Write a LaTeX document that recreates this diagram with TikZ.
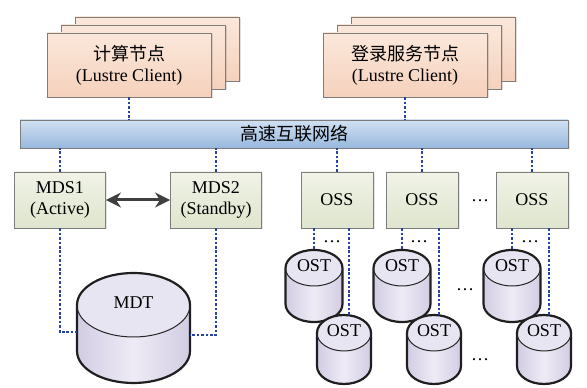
\documentclass[tikz,border=0pt]{standalone}
\usepackage{fontspec}
\setmainfont{Liberation Serif}
\newfontfamily\cjk{Noto Sans CJK SC}
\usetikzlibrary{arrows.meta,shadows,calc}

\definecolor{peachtop}{RGB}{251,232,219}
\definecolor{peachbot}{RGB}{245,209,188}
\definecolor{bartop}{RGB}{208,224,242}
\definecolor{barbot}{RGB}{152,184,221}
\definecolor{srvtop}{RGB}{240,243,230}
\definecolor{srvbot}{RGB}{223,229,206}
\definecolor{edgegray}{RGB}{125,125,125}
\definecolor{linkblue}{RGB}{38,68,168}
\definecolor{disklight}{RGB}{238,235,246}
\definecolor{diskdark}{RGB}{210,204,226}
\definecolor{disktopc}{RGB}{232,229,242}

% 圆柱：名字, x, 顶部 y, x 半径, y 半径, 高, 文字
\newcommand{\disk}[7]{%
  \path[diskside] ({#2-#4},{#3-#5}) -- ({#2-#4},{#3-#6+#5})
    arc[start angle=180, end angle=360, x radius=#4pt, y radius=#5pt]
    -- ({#2+#4},{#3-#5})
    arc[start angle=0, end angle=180, x radius=#4pt, y radius=#5pt] -- cycle;
  \fill[disktopc] (#2,{#3-#5}) ellipse[x radius=#4pt, y radius=#5pt];
  \draw[diskrim] ({#2-#4},{#3-#5}) -- ({#2-#4},{#3-#6+#5})
    arc[start angle=180, end angle=360, x radius=#4pt, y radius=#5pt]
    -- ({#2+#4},{#3-#5})
    arc[start angle=0, end angle=180, x radius=#4pt, y radius=#5pt] -- cycle;
  \draw[line width=1pt, black!85] ({#2-#4},{#3-#5})
    arc[start angle=180, end angle=360, x radius=#4pt, y radius=#5pt];
  \coordinate (#1-top) at (#2,#3);
  \node[disklabel] (#1) at (#2,{#3-#5+2.5}) {#7};
}

\begin{document}
\begin{tikzpicture}[x=1pt, y=1pt,
    font=\fontsize{18}{21}\selectfont,
    stackbox/.style={draw=edgegray, line width=0.8pt, top color=peachtop, bottom color=peachbot,
      minimum width=164pt, minimum height=64pt, inner sep=0pt, align=center,
      drop shadow={opacity=0.25, shadow xshift=1.5pt, shadow yshift=-1.5pt}},
    netbar/.style={draw=edgegray, line width=0.8pt, top color=bartop, bottom color=barbot,
      minimum width=548pt, minimum height=28pt, inner sep=0pt,
      drop shadow={opacity=0.2, shadow xshift=1.5pt, shadow yshift=-1.5pt}},
    srvbox/.style={draw=edgegray, line width=0.8pt, top color=srvtop, bottom color=srvbot,
      minimum width=72pt, minimum height=56pt, inner sep=0pt, align=center,
      drop shadow={opacity=0.2, shadow xshift=1.5pt, shadow yshift=-1.5pt}},
    link/.style={linkblue, line width=2pt, dash pattern=on 2.6pt off 1.8pt},
    pair/.style={{Stealth[length=15pt, width=15pt]}-{Stealth[length=15pt, width=15pt]},
      line width=3pt, black!75},
    diskside/.style={left color=diskdark, right color=diskdark, middle color=disklight},
    diskrim/.style={line width=2.2pt, black!88, line join=round},
    disklabel/.style={inner sep=1pt},
    more/.style={inner sep=0pt, anchor=base}]
  \useasboundingbox (0,0) rectangle (587,388);

  % 客户端节点
  \node[stackbox] (calcback) at (157,339) {};
  \node[stackbox] (calcmid) at (143,331) {};
  \node[stackbox] (calc) at (129,323) {{\cjk 计算节点}\\(Lustre Client)};
  \node[stackbox] (loginback) at (433,339) {};
  \node[stackbox] (loginmid) at (419,331) {};
  \node[stackbox] (login) at (405,323) {{\cjk 登录服务节点}\\(Lustre Client)};

  % 网络
  \node[netbar] (net) at (294,254) {\cjk 高速互联网络};

  % 服务器
  \node[srvbox, minimum width=91pt] (mds1) at (60,188) {MDS1\\(Active)};
  \node[srvbox, minimum width=91pt] (mds2) at (216,188) {MDS2\\(Standby)};
  \node[srvbox] (oss1) at (337,188) {OSS};
  \node[srvbox] (oss2) at (422,188) {OSS};
  \node[srvbox] (oss3) at (532,188) {OSS};
  \node[more] (ossmore) at (480,186) {…};

  % 存储
  \disk{mdt}{133.5}{115}{56.5}{32}{110}{MDT}
  \disk{ostA}{314}{138}{28.5}{18}{72}{OST}
  \disk{ostB}{402}{138}{28.5}{18}{72}{OST}
  \disk{ostC}{512}{138}{28.5}{18}{72}{OST}
  \disk{ostD}{344}{73}{27}{18}{69}{OST}
  \disk{ostE}{434}{73}{27}{18}{69}{OST}
  \disk{ostF}{544}{73}{27}{18}{69}{OST}
  \node[more] (ostmore1) at (465,97.5) {…};
  \node[more] (ostmore2) at (480,27.5) {…};
  \node[more] (linkmore1) at (332,145.5) {…};
  \node[more] (linkmore2) at (419,145.5) {…};
  \node[more] (linkmore3) at (530,145.5) {…};

  % 连线
  \draw[link] (calc.south) -- (calc.south |- net.north);
  \draw[link] (login.south) -- (login.south |- net.north);
  \foreach \s in {mds1,mds2,oss1,oss2,oss3}
    \draw[link] (\s.north) -- (\s.north |- net.south);
  \draw[pair] (mds1) -- (mds2);
  \coordinate (mdtin1) at (77,56);
  \coordinate (mdtin2) at (190,53);
  \draw[link] (mds1.south) |- (mdtin1);
  \draw[link] (mds2.south) |- (mdtin2);
  \foreach \o/\t/\b in {oss1/ostA/ostD, oss2/ostB/ostE, oss3/ostC/ostF} {
    \draw[link] (\o.south -| \t-top) -- (\t-top);
    \draw[link] ($(\o.south -| \b-top)+(5,0)$) -- ($(\b-top)+(5,-0.5)$);
  }
\end{tikzpicture}
\end{document}
